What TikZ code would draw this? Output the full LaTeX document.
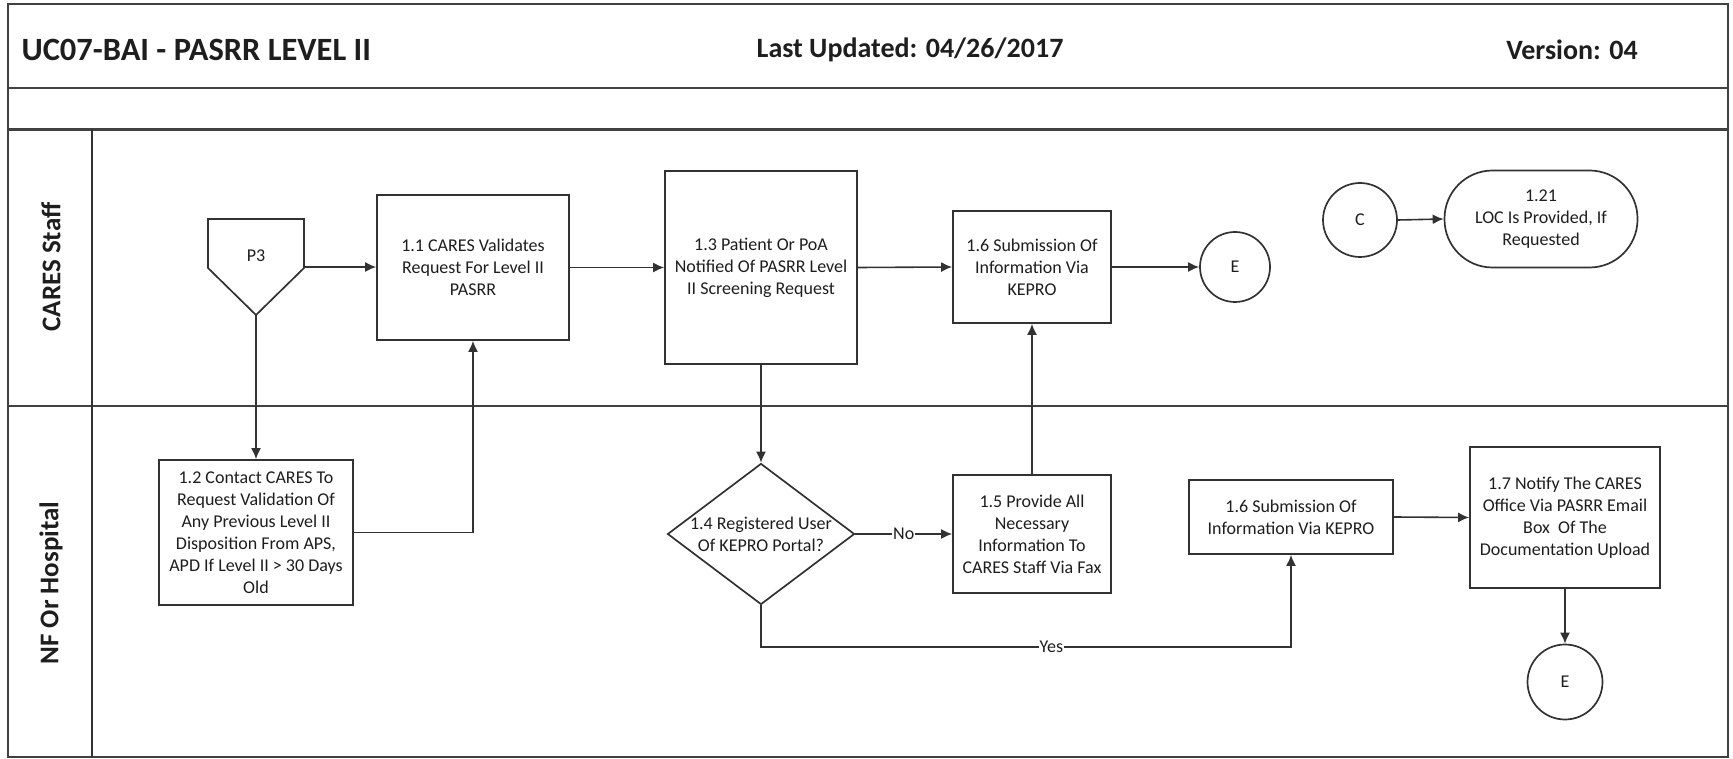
\documentclass[tikz,border=0pt]{standalone}
\usepackage{fontspec}
\setmainfont{Carlito}
\usetikzlibrary{shapes.geometric,arrows.meta,calc}
\definecolor{lc}{RGB}{50,50,50}
\definecolor{fc}{RGB}{65,65,65}
\definecolor{txt}{RGB}{30,30,30}
\tikzset{
  box/.style={draw=lc, line width=1.7pt, fill=white, inner sep=0pt, align=center,
    font=\fontsize{18}{22}\selectfont, text=txt},
  conn/.style={draw=lc, line width=1.6pt, -{Latex[length=11pt,width=10pt]}},
  frameline/.style={draw=fc, line width=2.8pt},
  lbl/.style={fill=white, inner sep=1pt, font=\fontsize{18}{22}\selectfont, text=txt},
  lanelbl/.style={rotate=90, font=\bfseries\fontsize{27}{32}\selectfont, text=txt},
  hdr/.style={font=\bfseries\fontsize{32.5}{38}\selectfont, text=txt},
}
\begin{document}
\begin{tikzpicture}[x=1pt,y=-1pt]
\useasboundingbox (0,0) rectangle (1733,759);
% frame
\draw[frameline] (8,4) rectangle (1728,757);
\draw[frameline] (8,88) -- (1728,88);
\draw[frameline] (8,129.5) -- (1728,129.5);
\draw[frameline] (8,406) -- (1728,406);
\draw[draw=lc, line width=1.6pt] (92,129.5) -- (92,757);
% header
\node[hdr, anchor=west] (title) at (18,50) {UC07-BAI - PASRR LEVEL II};
\node[hdr, font=\bfseries\fontsize{28}{34}\selectfont] (upd) at (910,50) {Last Updated: 04/26/2017};
\node[hdr, font=\bfseries\fontsize{28}{34}\selectfont] (ver) at (1572,50) {Version: 04};
% lanes
\node[lanelbl] (lane1) at (51,267) {CARES Staff};
\node[lanelbl] (lane2) at (51,583) {NF Or Hospital};
% P3 off-page connector
\draw[draw=lc, line width=1.7pt, fill=white] (208,219) -- (304,219) -- (304,268) -- (256,315) -- (208,268) -- cycle;
\node[font=\fontsize{18}{22}\selectfont, text=txt] (p3) at (256,256) {P3};
\coordinate (p3r) at (304,267);
\coordinate (p3b) at (256,315);
% nodes
\node[box, minimum width=192pt, minimum height=145pt] (b11) at (473,267.5) {1.1 CARES Validates\\Request For Level II\\PASRR};
\node[box, minimum width=192pt, minimum height=193pt] (b13) at (761,267.5) {1.3 Patient Or PoA\\Notified Of PASRR Level\\II Screening Request};
\node[box, minimum width=158pt, minimum height=112pt] (b16a) at (1032,267) {1.6 Submission Of\\Information Via\\KEPRO};
\node[box, circle, minimum size=70pt] (eA) at (1235,267) {E};
\node[box, circle, minimum size=74pt] (cC) at (1360,220) {C};
\node[box, rectangle, rounded corners=48pt, minimum width=193pt, minimum height=97pt] (t121) at (1541,219) {1.21\\LOC Is Provided, If\\Requested};
\node[box, minimum width=194pt, minimum height=145pt] (b12) at (256,532.5) {1.2 Contact CARES To\\Request Validation Of\\Any Previous Level II\\Disposition From APS,\\APD If Level II > 30 Days\\Old};
\node[box, diamond, minimum width=187pt, minimum height=141pt] (d14) at (761,534) {};
\node[font=\fontsize{18}{22}\selectfont, text=txt, align=center] (d14t) at (761,534) {1.4 Registered User\\Of KEPRO Portal?};
\node[box, minimum width=158pt, minimum height=118pt] (b15) at (1032,534) {1.5 Provide All\\Necessary\\Information To\\CARES Staff Via Fax};
\node[box, minimum width=204pt, minimum height=74pt] (b16b) at (1291,517) {1.6 Submission Of\\Information Via KEPRO};
\node[box, minimum width=190pt, minimum height=141pt] (b17) at (1565,517.5) {1.7 Notify The CARES\\Office Via PASRR Email\\Box\ \ Of The\\Documentation Upload};
\node[box, circle, minimum size=75pt] (eB) at (1565,682) {E};
\coordinate (yline) at (0,647);
% connectors
\draw[conn] (p3r) -- (b11.west |- p3r);
\draw[conn] (b11.east) -- (b13.west);
\draw[conn] (b13.east) -- (b16a.west);
\draw[conn] (b16a.east) -- (eA.west);
\draw[conn] (cC.east) -- (t121.west);
\draw[conn] (p3b) -- (b12.north);
\draw[conn] (b12.east) -| (b11.south);
\draw[conn] (b13.south) -- (d14.north);
\draw[conn] (d14.east) -- node[lbl] {No} (b15.west);
\draw[conn] (b15.north) -- (b16a.south);
\draw[conn] (d14.south) -- (d14.south |- yline) -- node[lbl, pos=0.548] {Yes} (b16b.south |- yline) -- (b16b.south);
\draw[conn] (b16b.east) -- (b17.west);
\draw[conn] (b17.south) -- (eB.north);
\end{tikzpicture}
\end{document}
